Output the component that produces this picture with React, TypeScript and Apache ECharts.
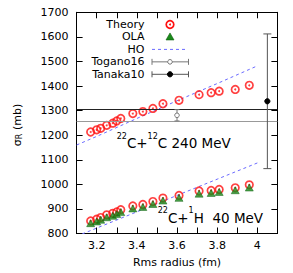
import React, { useEffect, useRef } from 'react';
import * as echarts from 'echarts';

// ---- data ----
const radii = [3.17, 3.2, 3.22, 3.25, 3.28, 3.3, 3.32, 3.38, 3.43, 3.48, 3.53, 3.61, 3.71, 3.77, 3.81, 3.89, 3.96];
const theoryC12 = [1213, 1222, 1228, 1240, 1249, 1258, 1268, 1288, 1296, 1309, 1328, 1342, 1365, 1373, 1379, 1386, 1403];
const theoryH1 = [851, 858, 865, 876, 882, 888, 897, 912, 918, 930, 944, 955, 973, 975, 979, 986, 998];
const olaH1 = [842, 849, 856, 866, 872, 879, 887, 902, 908, 920, 934, 945, 962, 965, 969, 976, 987];
const hoRadii = [3.1, 3.2, 3.4, 3.6, 3.8, 4.0];
const hoC12 = [1160, 1195, 1268, 1340, 1410, 1482];
const hoH1 = [789, 822, 888, 955, 1021, 1087];
// [radius, sigma, error]
const togano16 = [3.6, 1281, 23];
const tanaka10 = [4.05, 1338, 274];
const legendNames = ['Theory', 'OLA', 'HO', 'Togano16', 'Tanaka10'];
const xTicks = { min: 3.1, max: 4.1, step: 0.1 };
const yTicks = { min: 800, max: 1700, step: 100 };

const FONT = 'DejaVu Sans';
const RED = '#ff1010';
const GREEN = '#1a8a1a';
const BLUE = '#6a6aff';

function pairs(xs: number[], ys: number[]) {
  return xs.map((x, i) => [x, ys[i]]);
}

function errorBar(name: string, p: number[], color: string, fill: string, stroke: string, cap: number, r: number) {
  return {
    type: 'custom',
    name,
    z: 6,
    data: [[p[0], p[1], p[1] - p[2], p[1] + p[2]]],
    renderItem: (_params: any, api: any) => {
      const x = api.value(0);
      const c = api.coord([x, api.value(1)]);
      const lo = api.coord([x, api.value(2)]);
      const hi = api.coord([x, api.value(3)]);
      const ls = { stroke: color, lineWidth: 1 };
      return {
        type: 'group',
        children: [
          { type: 'line', shape: { x1: hi[0], y1: hi[1], x2: lo[0], y2: lo[1] }, style: ls },
          { type: 'line', shape: { x1: hi[0] - cap, y1: hi[1], x2: hi[0] + cap, y2: hi[1] }, style: ls },
          { type: 'line', shape: { x1: lo[0] - cap, y1: lo[1], x2: lo[0] + cap, y2: lo[1] }, style: ls },
          { type: 'circle', shape: { cx: c[0], cy: c[1], r }, style: { fill, stroke, lineWidth: 1 } },
        ],
      };
    },
  };
}

export default function App() {
  const ref = useRef<HTMLDivElement>(null);
  useEffect(() => {
    if (!ref.current) return;
    const chart = echarts.init(ref.current, undefined, { renderer: 'svg' });
    const textStyle = { fontFamily: FONT, fontSize: 11, color: '#000' };
    const axisLine = { show: true, onZero: false, lineStyle: { color: '#000', width: 1 } };
    const tick = { show: true, inside: true, length: 6, lineStyle: { color: '#000', width: 1 } };
    const xFmt = (v: number) => {
      const k = Math.round(v * 10);
      if (k % 2 !== 0) return '';
      return k % 10 === 0 ? String(k / 10) : (k / 10).toFixed(1);
    };
    const yFmt = (v: number) => String(Math.round(v));
    const legY = (i: number) => 24.5 + 12.45 * i;
    const legendGraphics: any[] = legendNames.map((n, i) => ({
      type: 'text',
      x: 144.5,
      y: legY(i),
      style: { text: n, font: `11px "${FONT}"`, fill: '#000', align: 'right', verticalAlign: 'middle' },
      z: 10,
    }));
    legendGraphics.push(
      { type: 'circle', shape: { cx: 170, cy: legY(0), r: 3.8 }, style: { fill: 'none', stroke: RED, lineWidth: 1.7 }, z: 10 },
      { type: 'circle', shape: { cx: 170, cy: legY(0), r: 1 }, style: { fill: RED }, z: 10 },
      { type: 'polygon', shape: { points: [[170, legY(1) - 4], [174, legY(1) + 3], [166, legY(1) + 3]] }, style: { fill: GREEN, stroke: '#0d5e0d', lineWidth: 0.6 }, z: 10 },
      { type: 'line', shape: { x1: 152, y1: legY(2), x2: 186, y2: legY(2) }, style: { stroke: BLUE, lineWidth: 1, lineDash: [3, 3] }, z: 10 },
    );
    [[3, '#fff', '#777', '#777', 2.3], [4, '#000', '#000', '#555', 2.6]].forEach(([i, fill, stroke, col, r]: any) => {
      const y = legY(i);
      const ls = { stroke: col, lineWidth: 1 };
      legendGraphics.push(
        { type: 'line', shape: { x1: 152, y1: y, x2: 188.5, y2: y }, style: ls, z: 10 },
        { type: 'line', shape: { x1: 152, y1: y - 3, x2: 152, y2: y + 3 }, style: ls, z: 10 },
        { type: 'line', shape: { x1: 188.5, y1: y - 3, x2: 188.5, y2: y + 3 }, style: ls, z: 10 },
        { type: 'circle', shape: { cx: 170, cy: y, r }, style: { fill, stroke, lineWidth: 1 }, z: 11 },
      );
    });
    const txt = (text: string, x: number, y: number, size: number) => ({
      type: 'text', x, y, z: 10,
      style: { text, font: `${size}px "${FONT}"`, fill: '#000', align: 'left', verticalAlign: 'middle' },
    });
    const annotations: any[] = [
      txt('22', 116.7, 136.3, 8), txt('C+', 126.9, 142.6, 13.5), txt('12', 147.6, 136.3, 8), txt('C 240 MeV', 157.8, 142.6, 13.5),
      txt('22', 157.7, 210.8, 8), txt('C+', 167.9, 217.8, 13.5), txt('1', 188.6, 210.8, 8), txt('H  40 MeV', 193.7, 217.8, 13.5),
    ];
    const yTitle = {
      type: 'group', x: 17, y: 125, rotation: Math.PI / 2, z: 10,
      children: [
        { type: 'text', x: -21.2, y: 0, style: { text: 'σ', font: `11px "${FONT}"`, fill: '#000', align: 'left', verticalAlign: 'middle' } },
        { type: 'text', x: -14.2, y: 2.5, style: { text: 'R', font: `8px "${FONT}"`, fill: '#000', align: 'left', verticalAlign: 'middle' } },
        { type: 'text', x: -8.6, y: 0, style: { text: ' (mb)', font: `11px "${FONT}"`, fill: '#000', align: 'left', verticalAlign: 'middle' } },
      ],
    };

    chart.setOption({
      animation: false,
      grid: { left: 76.6, right: 15.6, top: 12.3, bottom: 38 },
      xAxis: [
        {
          type: 'value', position: 'bottom', min: xTicks.min, max: xTicks.max, interval: xTicks.step,
          axisLine, axisTick: tick, splitLine: { show: false },
          axisLabel: { ...textStyle, margin: 6, formatter: xFmt, showMinLabel: true, showMaxLabel: true },
          name: 'Rms radius (fm)', nameLocation: 'middle', nameGap: 23.5, nameTextStyle: textStyle,
        },
        {
          type: 'value', position: 'top', min: xTicks.min, max: xTicks.max, interval: xTicks.step,
          axisLine, axisTick: tick, splitLine: { show: false }, axisLabel: { show: false },
        },
      ],
      yAxis: [
        {
          type: 'value', position: 'left', min: yTicks.min, max: yTicks.max, interval: yTicks.step,
          axisLine, axisTick: tick, splitLine: { show: false },
          axisLabel: { ...textStyle, margin: 8, formatter: yFmt },
        },
        {
          type: 'value', position: 'right', min: yTicks.min, max: yTicks.max, interval: yTicks.step,
          axisLine, axisTick: tick, splitLine: { show: false }, axisLabel: { show: false },
        },
      ],
      series: [
        {
          type: 'line', name: 'band', data: [], silent: true,
          markLine: {
            silent: true, symbol: 'none', label: { show: false },
            data: [
              { yAxis: togano16[1] + togano16[2], lineStyle: { color: '#222', width: 1, type: 'solid' } },
              { yAxis: togano16[1] - togano16[2], lineStyle: { color: '#999', width: 1, type: 'solid' } },
            ],
          },
        },
        {
          type: 'line', name: 'HO', data: pairs(hoRadii, hoC12), showSymbol: false, z: 2,
          lineStyle: { color: BLUE, width: 1, type: [3, 3] },
        },
        {
          type: 'line', name: 'HO', data: pairs(hoRadii, hoH1), showSymbol: false, z: 2,
          lineStyle: { color: BLUE, width: 1, type: [3, 3] },
        },
        ...[theoryC12, theoryH1].flatMap((ys) => [
          {
            type: 'scatter', name: 'Theory', data: pairs(radii, ys), z: 3,
            symbol: 'circle', symbolSize: 7.5,
            itemStyle: { color: 'rgba(255,255,255,0)', borderColor: RED, borderWidth: 1.7 },
          },
          {
            type: 'scatter', name: 'Theory', data: pairs(radii, ys), z: 4,
            symbol: 'circle', symbolSize: 2, itemStyle: { color: RED },
          },
        ]),
        {
          type: 'scatter', name: 'OLA', data: pairs(radii, olaH1), z: 5,
          symbol: 'triangle', symbolSize: [8, 7],
          itemStyle: { color: GREEN, borderColor: '#0d5e0d', borderWidth: 0.6 },
        },
        errorBar('Togano16', togano16, '#777', '#fff', '#777', 2.5, 2.3),
        errorBar('Tanaka10', tanaka10, '#555', '#000', '#000', 4, 2.6),
      ],
      graphic: [...legendGraphics, ...annotations, yTitle],
    });
    return () => chart.dispose();
  }, []);
  return <div ref={ref} style={{ position: 'fixed', left: 0, top: 0, width: 293, height: 273, background: '#fff' }} />;
}
